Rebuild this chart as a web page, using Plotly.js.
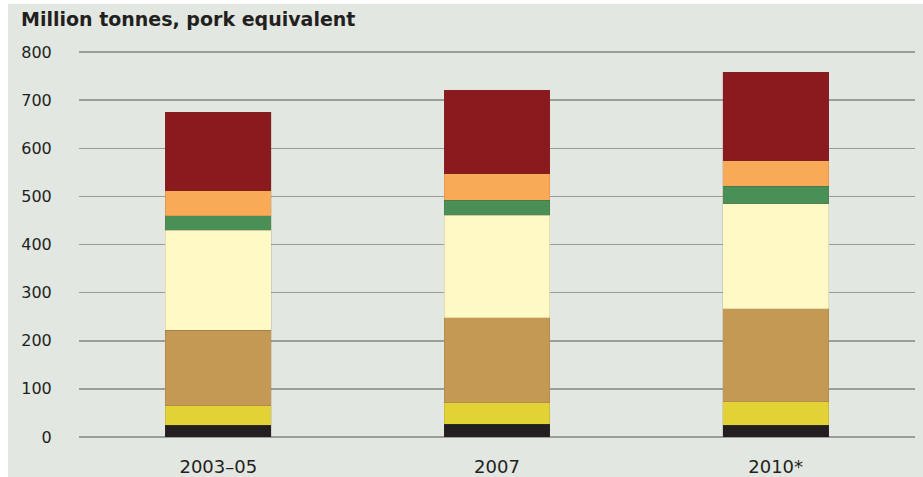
<!DOCTYPE html>
<html>
<head>
<meta charset="utf-8">
<script src="https://cdn.plot.ly/plotly-3.0.1.min.js"></script>
<style>html,body{margin:0;padding:0;background:#fff;}#chart{width:923px;height:477px;}</style>
</head>
<body>
<div id="chart"></div>
<script>
// Categories (x axis)
const categories = ["2003\u201305", "2007", "2010*"];

// Stacked segments, bottom to top (million tonnes, pork equivalent)
const seg1Black      = [24, 26, 24];
const seg2Yellow     = [41, 45, 49];
const seg3Tan        = [157, 177, 193];
const seg4LightYel   = [208, 213, 219];
const seg5Green      = [30, 31, 36];
const seg6Orange     = [52, 55, 53];
const seg7Red        = [163, 174, 184];

const yTicks = [0, 100, 200, 300, 400, 500, 600, 700, 800];

const series = [
  {name: "Segment 1", y: seg1Black,    color: "#231f20"},
  {name: "Segment 2", y: seg2Yellow,   color: "#e2d236"},
  {name: "Segment 3", y: seg3Tan,      color: "#c39954"},
  {name: "Segment 4", y: seg4LightYel, color: "#fffac5"},
  {name: "Segment 5", y: seg5Green,    color: "#4a8f55"},
  {name: "Segment 6", y: seg6Orange,   color: "#f9aa56"},
  {name: "Segment 7", y: seg7Red,      color: "#8b1a1e"}
];

const traces = series.map(s => ({
  type: "bar",
  name: s.name,
  x: categories,
  y: s.y,
  width: 0.38,
  marker: {color: s.color, line: {color: "rgba(90,70,50,0.25)", width: 0.6}},
  hoverinfo: "x+y+name"
}));

const W = 923, H = 477;
const mL = 79, mR = 8, mT = 46, mB = 40;
const pw = W - mL - mR, ph = H - mT - mB;
const px2x = p => (p - mL) / pw;
const py2y = p => (H - mB - p) / ph;

const layout = {
  width: W, height: H,
  margin: {l: mL, r: mR, t: mT, b: mB, pad: 0},
  paper_bgcolor: "#ffffff",
  plot_bgcolor: "rgba(0,0,0,0)",
  barmode: "stack",
  showlegend: false,
  font: {family: "DejaVu Sans, sans-serif", color: "#231f20"},
  shapes: [{
    type: "rect", xref: "paper", yref: "paper", layer: "below",
    x0: px2x(8), x1: px2x(W), y0: py2y(4), y1: py2y(H),
    fillcolor: "#e2e7e1", line: {width: 0}
  }],
  annotations: [{
    text: "<b>Million tonnes, pork equivalent</b>",
    xref: "paper", yref: "paper", x: px2x(19), y: py2y(6),
    xanchor: "left", yanchor: "top", showarrow: false,
    font: {family: "DejaVu Sans, sans-serif", size: 19, color: "#231f20"}
  }],
  xaxis: {
    type: "category",
    range: [-0.5, 2.5],
    showgrid: false, showline: false, zeroline: false,
    ticks: "outside", ticklen: 13, tickcolor: "rgba(0,0,0,0)",
    tickfont: {family: "DejaVu Sans, sans-serif", size: 18, color: "#231f20"},
    fixedrange: true
  },
  yaxis: {
    range: [0, 800 * (477 - 46 - 40) / 385],
    tickvals: yTicks,
    ticktext: yTicks.map(String),
    showgrid: true, gridcolor: "#9a9d99", gridwidth: 1.5,
    zeroline: true, zerolinecolor: "#9a9d99", zerolinewidth: 1.5,
    showline: false,
    ticks: "outside", ticklen: 23, tickcolor: "rgba(0,0,0,0)",
    tickfont: {family: "DejaVu Sans, sans-serif", size: 16, color: "#231f20"},
    fixedrange: true
  }
};

Plotly.newPlot("chart", traces, layout, {displayModeBar: false, staticPlot: true});
</script>
</body>
</html>
